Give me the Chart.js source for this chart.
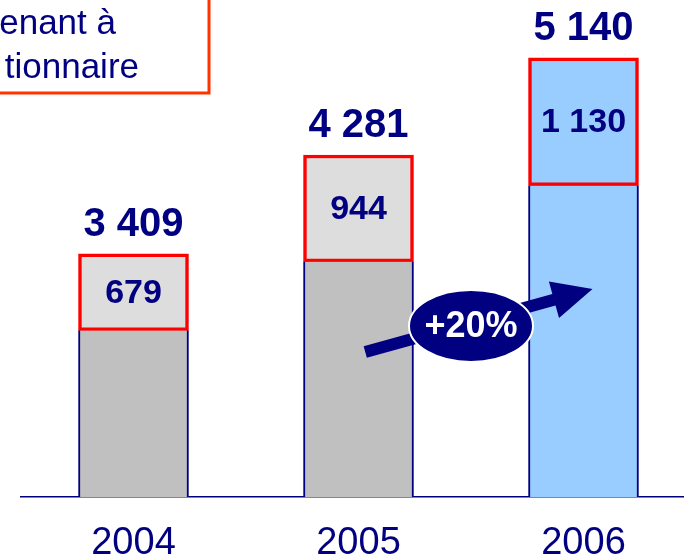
<!DOCTYPE html>
<html>
<head>
<meta charset="utf-8">
<script src="https://cdn.jsdelivr.net/npm/chart.js@4"></script>
<style>
  html, body { margin: 0; padding: 0; background: #fff; overflow: hidden; }
  #wrap { position: relative; width: 700px; height: 559px; }
</style>
</head>
<body>
<div id="wrap"><canvas id="chart"></canvas></div>
<script>
// data
const years = ['2004', '2005', '2006'];
const totals = [3409, 4281, 5140];
const topPart = [679, 944, 1130];
const basePart = totals.map((t, i) => t - topPart[i]);
const growthLabel = '+20%';
const legendLines = ['enant à', 'tionnaire'];

const navy = '#000080';
const red = '#FF0000';

function fmt(v) {
    return String(v).replace(/\B(?=(\d{3})+(?!\d))/g, ' ');
}

// decorations: legend box, totals, growth arrow
const extras = {
    id: 'extras',
    afterDatasetsDraw(chart) {
        const ctx = chart.ctx;
        const x = chart.scales.x;
        const y = chart.scales.y;
        ctx.save();

        // totals above the bars
        ctx.fillStyle = navy;
        ctx.textAlign = 'center';
        ctx.textBaseline = 'middle';
        ctx.font = 'bold 40px "Liberation Sans", Arial, sans-serif';
        totals.forEach((t, i) => {
            ctx.fillText(fmt(t), x.getPixelForValue(i), y.getPixelForValue(t) - 29);
        });

        // values inside the red boxes
        ctx.font = 'bold 34px "Liberation Sans", Arial, sans-serif';
        totals.forEach((t, i) => {
            const mid = y.getPixelForValue(t - topPart[i] / 2);
            ctx.fillText(fmt(topPart[i]), x.getPixelForValue(i), mid + 1);
        });

        // growth arrow
        const x0 = x.getPixelForValue(1.03), y0 = y.getPixelForValue(2541);
        const x1 = x.getPixelForValue(2.04), y1 = y.getPixelForValue(3097);
        const ang = Math.atan2(y1 - y0, x1 - x0);
        const len = Math.hypot(x1 - x0, y1 - y0);
        ctx.translate(x0, y0);
        ctx.rotate(ang);
        ctx.fillStyle = navy;
        ctx.beginPath();
        ctx.moveTo(0, -6);
        ctx.lineTo(len - 40, -6);
        ctx.lineTo(len - 40, -19);
        ctx.lineTo(len, 0);
        ctx.lineTo(len - 40, 19);
        ctx.lineTo(len - 40, 6);
        ctx.lineTo(0, 6);
        ctx.closePath();
        ctx.fill();
        ctx.setTransform(1, 0, 0, 1, 0, 0);

        // ellipse with the growth figure
        const ex = x.getPixelForValue(1.5), ey = y.getPixelForValue(2771);
        ctx.beginPath();
        ctx.ellipse(ex, ey, 62, 36, 0, 0, Math.PI * 2);
        ctx.fillStyle = navy;
        ctx.fill();
        ctx.lineWidth = 2;
        ctx.strokeStyle = '#fff';
        ctx.stroke();
        ctx.fillStyle = '#fff';
        ctx.font = 'bold 36px "Liberation Sans", Arial, sans-serif';
        ctx.fillText(growthLabel, ex, ey + 1);

        // legend box, cut off at the top left
        ctx.fillStyle = '#fff';
        ctx.fillRect(-10, -10, 219, 103);
        ctx.lineWidth = 3;
        ctx.strokeStyle = '#FF3300';
        ctx.strokeRect(-10, -10, 219, 103);
        ctx.fillStyle = navy;
        ctx.font = '35px "Liberation Sans", Arial, sans-serif';
        ctx.textAlign = 'right';
        ctx.textBaseline = 'alphabetic';
        ctx.fillText(legendLines[0], 116, 34);
        ctx.fillText(legendLines[1], 139, 78);
        ctx.restore();
    }
};

new Chart(document.getElementById('chart'), {
    type: 'bar',
    data: {
        labels: years,
        datasets: [{
            data: basePart,
            backgroundColor: ['#C0C0C0', '#C0C0C0', '#99CCFF'],
            borderColor: navy,
            borderWidth: { left: 2, right: 2, top: 0, bottom: 0 },
            borderSkipped: false
        }, {
            data: topPart,
            backgroundColor: ['#DDDDDD', '#DDDDDD', '#99CCFF'],
            borderColor: red,
            borderWidth: 3.5,
            borderSkipped: false
        }]
    },
    options: {
        responsive: true,
        maintainAspectRatio: false,
        animation: false,
        layout: { padding: { left: 21, right: 4, top: 0, bottom: 0 } },
        datasets: { bar: { barThickness: 110 } },
        scales: {
            x: {
                stacked: true,
                grid: { display: false },
                border: { display: true, color: navy, width: 1.5 },
                afterFit: (scale) => { scale.height = 62; },
                ticks: {
                    color: navy,
                    padding: 16,
                    font: { family: '"Liberation Sans", Arial, sans-serif', size: 38 }
                }
            },
            y: {
                stacked: true,
                display: false,
                min: 1260,
                max: 5650
            }
        },
        plugins: {
            legend: { display: false },
            tooltip: { enabled: false }
        }
    },
    plugins: [extras]
});
</script>
</body>
</html>
